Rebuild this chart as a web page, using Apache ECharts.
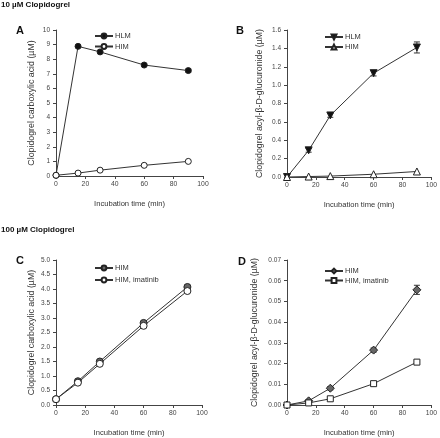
<!DOCTYPE html>
<html><head><meta charset="utf-8">
<script src="https://cdn.jsdelivr.net/npm/echarts@6/dist/echarts.min.js"></script>
<style>html,body{margin:0;padding:0;background:#fff}#c{width:440px;height:438px}</style>
</head><body><div id="c"></div><script>
const times=[0,15,30,60,90];
const xTicksMax=100;
const aHLM=[0.05,8.88,8.5,7.6,7.22];
const aHLMerr=[0,0.08,0.08,0.08,0.1];
const aHIM=[0.05,0.2,0.4,0.73,1.0];
const bHLM=[0,0.29,0.67,1.13,1.41];
const bHLMerr=[0,0.02,0.02,0.03,0.06];
const bHIM=[0,0.005,0.01,0.03,0.06];
const cHIM=[0.2,0.82,1.5,2.83,4.07];
const cHIMerr=[0,0.04,0.04,0.05,0.06];
const cIMA=[0.2,0.77,1.42,2.73,3.93];
const dHIM=[0,0.002,0.0081,0.0265,0.0556];
const dHIMerr=[0,0.0004,0.0008,0.001,0.0022];
const dIMA=[0,0.001,0.003,0.0103,0.0207];
const titles=['10 µM Clopidogrel','100 µM Clopidogrel'];
const yNames=['Clopidogrel carboxylic acid (µM)','Clopidogrel acyl-β-D-glucuronide (µM)'];
const xName='Incubation time (min)';

const FONT='Liberation Sans, Arial, sans-serif';
const AX='#444';
const grids=[
  {left:56,top:30,width:147,height:146},
  {left:287,top:30,width:145,height:147},
  {left:56,top:260,width:146,height:147},
  {left:287,top:260,width:145,height:147}
];
const yCfg=[
  {max:10,interval:1,fmt:v=>String(v),name:yNames[0],gap:20},
  {max:1.6,interval:0.2,fmt:v=>v.toFixed(1),name:yNames[1],gap:23},
  {max:5,interval:0.5,fmt:v=>v.toFixed(1),name:yNames[0],gap:20},
  {max:0.07,interval:0.01,fmt:v=>v.toFixed(2),name:yNames[1],gap:28}
];
const xAxis=grids.map((g,i)=>({type:'value',gridIndex:i,min:0,max:xTicksMax,interval:20,
  name:xName,nameLocation:'middle',nameGap:24,nameTextStyle:{fontSize:7.6,color:'#333',fontFamily:FONT},
  axisLine:{lineStyle:{color:AX,width:1}},axisTick:{length:3,lineStyle:{color:AX}},
  axisLabel:{fontSize:6.8,color:'#444',margin:5,fontFamily:FONT},splitLine:{show:false}}));
const yAxis=yCfg.map((c,i)=>({type:'value',gridIndex:i,min:0,max:c.max,interval:c.interval,
  name:c.name,nameLocation:'middle',nameGap:c.gap,nameTextStyle:{fontSize:8.8,color:'#333',fontFamily:FONT},
  axisLine:{show:true,lineStyle:{color:AX,width:1}},axisTick:{show:true,length:3,lineStyle:{color:AX}},
  axisLabel:{fontSize:6.5,color:'#444',margin:6,fontFamily:FONT,formatter:c.fmt},splitLine:{show:false}}));

const TRI_DOWN='path://M0,0 L10,0 L5,9 Z';
function line(name,idx,vals,symbol,fill,size){
  return {type:'line',name:name,xAxisIndex:idx,yAxisIndex:idx,data:times.map((t,i)=>[t,vals[i]]),
    symbol:symbol,symbolSize:size||6,showAllSymbol:true,z:3,
    lineStyle:{color:'#333',width:1},itemStyle:{color:fill,borderColor:'#222',borderWidth:1},
    emphasis:{disabled:true}};
}
function err(idx,vals,errs){
  return {type:'custom',xAxisIndex:idx,yAxisIndex:idx,silent:true,z:2,
    data:times.map((t,i)=>[t,vals[i]-errs[i],vals[i]+errs[i]]).filter((d,i)=>errs[i]>0),
    encode:{x:0,y:[1,2]},
    renderItem:(p,api)=>{
      const lo=api.coord([api.value(0),api.value(1)]);
      const hi=api.coord([api.value(0),api.value(2)]);
      const w=3,st={stroke:'#333',lineWidth:1};
      return {type:'group',children:[
        {type:'line',shape:{x1:lo[0],y1:lo[1],x2:hi[0],y2:hi[1]},style:st},
        {type:'line',shape:{x1:lo[0]-w,y1:lo[1],x2:lo[0]+w,y2:lo[1]},style:st},
        {type:'line',shape:{x1:hi[0]-w,y1:hi[1],x2:hi[0]+w,y2:hi[1]},style:st}]};
    }};
}
const series=[
  err(0,aHLM,aHLMerr),
  line('A|HLM',0,aHLM,'circle','#111'),
  line('A|HIM',0,aHIM,'circle','#fff'),
  err(1,bHLM,bHLMerr),
  line('B|HLM',1,bHLM,TRI_DOWN,'#111',7),
  line('B|HIM',1,bHIM,'triangle','#fff',7),
  err(2,cHIM,cHIMerr),
  line('C|HIM',2,cHIM,'circle','#666',7),
  line('C|HIM, imatinib',2,cIMA,'circle','#fff',7),
  err(3,dHIM,dHIMerr),
  line('D|HIM',3,dHIM,'diamond','#666',8),
  line('D|HIM, imatinib',3,dIMA,'rect','#fff',6)
];
function legend(left,top,names,gap){
  return {left:left,top:top,orient:'vertical',data:names,itemWidth:18,itemHeight:6,itemGap:gap,
    selectedMode:false,formatter:n=>n.split('|')[1],
    textStyle:{fontSize:7.5,color:'#333',fontFamily:FONT,padding:[0,0,0,-3]}};
}
const legends=[
  legend(89,27,['A|HLM','A|HIM'],2.5),
  legend(319,28,['B|HLM','B|HIM'],2),
  legend(89,259,['C|HIM','C|HIM, imatinib'],4),
  legend(319,262,['D|HIM','D|HIM, imatinib'],1.5)
];
const txt=(x,y,t,fs)=>({type:'text',left:x,top:y,style:{text:t,font:'bold '+fs+'px '+FONT,fill:'#111'}});
const chart=echarts.init(document.getElementById('c'),null,{renderer:'canvas'});
chart.setOption({
  animation:false,backgroundColor:'#fff',
  grid:grids,xAxis:xAxis,yAxis:yAxis,series:series,legend:legends,
  graphic:[
    txt(1,1,titles[0],8),txt(1,226,titles[1],8),
    txt(16,25,'A',11),txt(236,25,'B',11),txt(16,255,'C',11),txt(238,256,'D',11)
  ]
});
</script></body></html>
